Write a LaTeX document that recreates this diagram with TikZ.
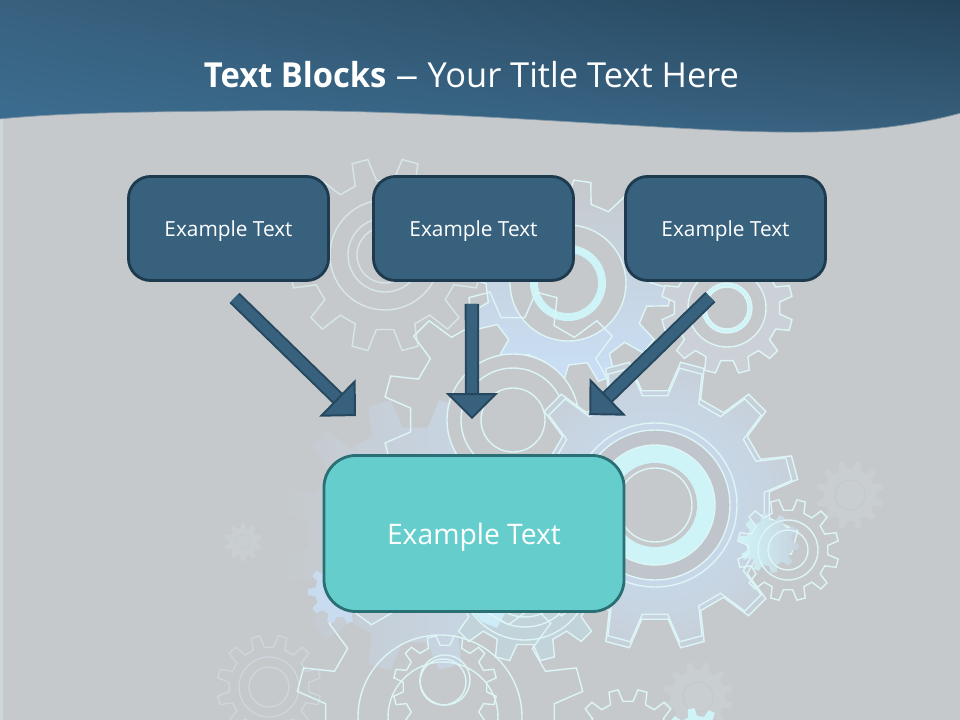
\documentclass[tikz,border=0pt]{standalone}
\usepackage{fontspec}
\usepackage{tikz}
\usetikzlibrary{arrows.meta, shadings}
\setmainfont{Open Sans}[BoldFeatures={FakeStretch=0.95}]

\definecolor{slidegray}{HTML}{C5C9CC}
\definecolor{ringgray}{HTML}{BFC5CA}
\definecolor{bandlight}{HTML}{3C6E92}
\definecolor{banddark}{HTML}{24435A}
\definecolor{blockblue}{HTML}{38617E}
\definecolor{blockedge}{HTML}{1D3A4E}
\definecolor{arrowedge}{HTML}{26485F}
\definecolor{targetfill}{HTML}{65CECC}
\definecolor{targetedge}{HTML}{2A6F73}
\definecolor{gearpale}{HTML}{DDF5F6}
\definecolor{gearsoft}{HTML}{D8E6E8}
\definecolor{gearfaint}{HTML}{C9CED1}
\definecolor{gearlilac}{HTML}{CFD6DE}
\definecolor{glowblue}{HTML}{C9E0F8}
\definecolor{glowcyan}{HTML}{CFF4F8}

% optional style, centre x, centre y, tip radius, root radius, teeth, turn
\newcommand{\gearwheel}[7][gearline]{%
  \pgfmathsetmacro{\gearstep}{360/#6}%
  \path[#1, shift={(#2,#3)}] (#7-0.28*\gearstep:#5)
    \foreach \gearnum [evaluate=\gearnum as \gearang using #7+(\gearnum-1)*\gearstep] in {1,...,#6} {
      -- (\gearang-0.28*\gearstep:#5) -- (\gearang-0.16*\gearstep:#4)
      -- (\gearang+0.16*\gearstep:#4) -- (\gearang+0.28*\gearstep:#5)
    } -- cycle;
}

\begin{document}
\begin{tikzpicture}[x=0.025cm, y=-0.025cm]
    % Styles
    \tikzstyle{gearline} = [draw=gearpale, line width=1pt]
    \tikzstyle{gearsoftline} = [draw=gearsoft, line width=1pt]
    \tikzstyle{gearghost} = [draw=gearlilac, line width=0.9pt]
    \tikzstyle{ghostfill} = [fill=gearfaint]
    \tikzstyle{block} = [rectangle, rounded corners=0.55cm, draw=blockedge, line width=2pt, fill=blockblue, minimum width=5cm, minimum height=2.6cm, text=white, text depth=0pt, font=\fontsize{14.8}{17}\selectfont]
    \tikzstyle{target} = [rectangle, rounded corners=0.8cm, draw=targetedge, line width=2pt, fill=targetfill, minimum width=7.5cm, minimum height=3.9cm, text=white, text depth=0pt, font=\fontsize{20.1}{23}\selectfont]
    \tikzstyle{arrow} = [draw=arrowedge, line width=1.4pt, double=blockblue, double distance=0.26cm, -{Triangle[length=0.65cm, width=1.3cm, fill=blockblue]}]

    \useasboundingbox (0,0) rectangle (960,720);
    \clip (0,0) rectangle (960,720);
    \fill[slidegray] (0,0) rectangle (960,720);
    \fill[gearpale!35!slidegray] (0,110) rectangle (2.5,720);

    % Faint gears
    \gearwheel[ghostfill]{850}{495}{34}{26}{12}{15}
    \draw[slidegray, line width=0.75pt] (850,495) circle (15);
    \gearwheel[ghostfill]{698}{697}{35}{27}{12}{15}
    \draw[slidegray, line width=0.75pt] (698,697) circle (15);
    \gearwheel[ghostfill]{243}{542}{19}{14}{10}{18}
    \draw[slidegray] (243,542) circle (7);
    \gearwheel[gearghost]{269}{687}{52}{40}{12}{15}
    \foreach \rr in {20,30} \draw[gearghost] (269,687) circle (\rr);

    % Gears behind the blocks
    \gearwheel[left color=slidegray, right color=glowblue!75!slidegray]{415}{535}{137}{108}{12}{15}
    \gearwheel[top color=slidegray, bottom color=glowblue, gearline]{568}{283}{103}{82}{12}{8}
    \draw[gearline, fill=slidegray] (568,283) circle (58);
    \fill[glowcyan] (568,283) circle (38);
    \fill[slidegray] (568,283) circle (30);
    \gearwheel[gearsoftline]{385}{255}{97}{75}{12}{15}
    \foreach \rr in {28,37,55} \draw[gearsoftline] (385,255) circle (\rr);
    \gearwheel[fill=gearlilac!60!slidegray, gearline]{727}{308}{66}{53}{12}{15}
    \draw[gearline, fill=slidegray] (727,308) circle (39);
    \draw[gearline, fill=glowcyan] (727,308) circle (25);
    \draw[gearline, fill=slidegray] (727,308) circle (21);
    \gearwheel[gearline]{513}{420}{130}{103}{12}{15}
    \draw[gearline, fill=slidegray] (513,420) circle (66);
    \draw[gearline] (513,420) circle (52);
    \draw[gearline] (513,420) circle (32);
    \gearwheel[fill=blockblue!14!gearsoft, gearline]{525}{575}{87}{70}{12}{15}
    \foreach \rr in {42,52,65} \draw[gearline] (525,575) circle (\rr);
    \fill[glowcyan!60!glowblue] (470,610) -- (507,610) -- (497,628) -- (482,622) -- cycle;
    \gearwheel[gearline]{440}{717}{145}{115}{12}{15}
    \draw[gearline] (440,717) circle (82);
    \draw[gearline] (443,717) circle (55);
    \gearwheel[gearline]{445}{687}{52}{42}{12}{15}
    \draw[gearline] (445,680) circle (25);
    \draw[gearline] (443,682) circle (23);
    \gearwheel[fill=glowblue!80!slidegray]{340}{592}{32}{25}{10}{0}

    % Main gear
    \gearwheel[inner color=glowblue, outer color=slidegray!70!glowblue, gearline]{655}{505}{145}{115}{12}{15}
    \gearwheel[gearline]{655}{505}{139}{110}{12}{15}
    \draw[gearline] (655,505) circle (82);
    \draw[gearline, fill=ringgray] (655,505) circle (75);
    \fill[glowcyan] (655,505) circle (60);
    \draw[gearline] (655,505) circle (60);
    \fill[slidegray] (655,505) circle (42);
    \draw[gearline] (655,505) circle (37);

    % Small gears on the right and at the foot
    \gearwheel[left color=glowcyan, right color=slidegray!60!glowblue]{769}{543}{30}{23}{10}{8}
    \gearwheel[gearline]{788}{550}{51}{40}{12}{15}
    \foreach \rr in {20,30} \draw[gearline] (788,550) circle (\rr);
    \gearwheel[fill=glowcyan]{697}{742}{34}{26}{10}{8}
    \gearwheel[gearline]{628}{745}{56}{44}{12}{15}

    % Title band
    \shade[lower left=bandlight, upper right=banddark, lower right=blockblue, upper left=blockblue, draw=blockblue!50!slidegray, line width=0.5pt]
        (-1,-1) -- (961,-1) -- (961,113) .. controls (880,135) and (800,133) .. (735,131)
        .. controls (550,122) and (400,108) .. (230,111) .. controls (150,112) and (70,112) .. (-1,119) -- cycle;
    \node[text=white, font=\fontsize{24.5}{29}\selectfont] (title) at (471.5,75) {\textbf{Text Blocks} \scalebox{1.35}[1]{--} Your Title Text Here};

    % Nodes
    \node[block] (blockA) at (228.5,228.5) {Example Text};
    \node[block] (blockB) at (473.5,228.5) {Example Text};
    \node[block] (blockC) at (725.5,228.5) {Example Text};
    \node[target] (result) at (474,533.5) {Example Text};

    % Arrow ends
    \coordinate (startA) at ([xshift=0.15cm, yshift=-0.4cm]blockA.south);
    \coordinate (startB) at ([xshift=-0.04cm, yshift=-0.55cm]blockB.south);
    \coordinate (startC) at ([xshift=-0.38cm, yshift=-0.38cm]blockC.south);
    \coordinate (endA) at ([xshift=-2.95cm, yshift=0.95cm]result.north);
    \coordinate (endB) at ([xshift=-0.05cm, yshift=0.875cm]result.north);
    \coordinate (endC) at ([xshift=2.88cm, yshift=0.975cm]result.north);

    % Arrows
    \draw[arrow] (startA) -- (endA);
    \draw[arrow] (startB) -- (endB);
    \draw[arrow] (startC) -- (endC);
\end{tikzpicture}
\end{document}
